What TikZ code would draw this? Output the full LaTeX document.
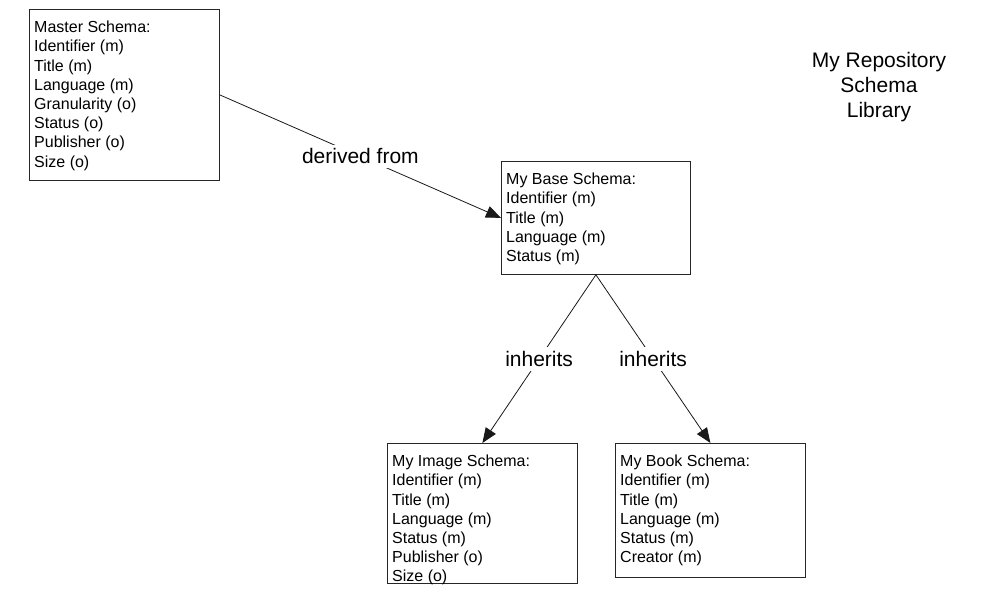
\documentclass[tikz,border=0pt]{standalone}
\usepackage{fontspec}
\setmainfont{Liberation Sans}
\usepackage{xcolor}
\definecolor{schemadraw}{rgb}{0.15,0.15,0.15}
\definecolor{linkdraw}{rgb}{0.10,0.10,0.10}
\usepackage{tikz}
\usetikzlibrary{positioning,arrows.meta}

\begin{document}
\begin{tikzpicture}[
  x=1pt, y=-1pt,
  >={Triangle[length=15pt,width=12pt]},
  schemabox/.style ={rectangle, draw=schemadraw, line width=0.8pt, anchor=north west, inner sep=0pt},
  fieldlist/.style ={anchor=north west, align=left, inner sep=0pt, xshift=5pt, yshift=-10pt,
                     font=\fontsize{16}{19.2}\selectfont},
  linklabel/.style ={fill=white, inner sep=4pt, font=\fontsize{21}{25}\selectfont},
  link/.style      ={->, line width=0.8pt, draw=linkdraw}
]
\useasboundingbox (0,0) rectangle (989,596);

% schema boxes, drawn empty and filled with a top aligned field list
\node[schemabox, minimum width=190pt, minimum height=171pt] (master) at (29,9) {};
\node[fieldlist] (masterfields) at (master.north west)
   {\strut Master Schema:\\Identifier (m)\\Title (m)\\Language (m)\\Granularity (o)\\Status (o)\\Publisher (o)\\Size (o)};

\node[schemabox, minimum width=189pt, minimum height=113pt] (base) at (501,161) {};
\node[fieldlist] (basefields) at (base.north west)
   {\strut My Base Schema:\\Identifier (m)\\Title (m)\\Language (m)\\Status (m)};

\node[schemabox, minimum width=190pt, minimum height=140pt] (image) at (387,443) {};
\node[fieldlist] (imagefields) at (image.north west)
   {\strut My Image Schema:\\Identifier (m)\\Title (m)\\Language (m)\\Status (m)\\Publisher (o)\\Size (o)};

\node[schemabox, minimum width=190pt, minimum height=134pt] (book) at (615,443) {};
\node[fieldlist] (bookfields) at (book.north west)
   {\strut My Book Schema:\\Identifier (m)\\Title (m)\\Language (m)\\Status (m)\\Creator (m)};

\node[align=center, font=\fontsize{21}{25}\selectfont] (library) at (879,87)
   {My Repository\\Schema\\Library};

% derivation and inheritance links
\draw[link] (master.east) -- node[linklabel] {derived from} (base.west);
\draw[link] (base.south) -- node[linklabel] {inherits} (image.north);
\draw[link] (base.south) -- node[linklabel] {inherits} (book.north);

\end{tikzpicture}
\end{document}
